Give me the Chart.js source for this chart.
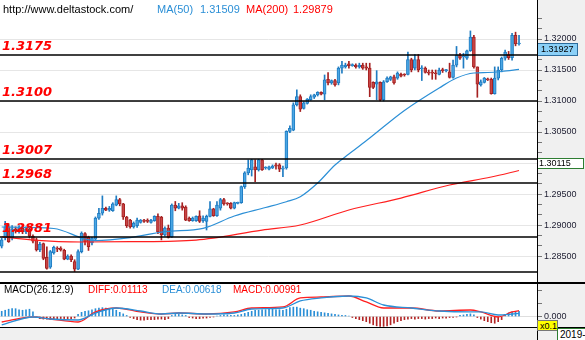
<!DOCTYPE html>
<html>
<head>
<meta charset="utf-8">
<script src="https://cdn.jsdelivr.net/npm/chart.js@4.4.1/dist/chart.umd.min.js"></script>
<style>
  html, body { margin: 0; padding: 0; background: #fff; }
  #wrap { position: relative; width: 585px; height: 340px; overflow: hidden; background: #fff;
          font-family: "Liberation Sans", Arial, sans-serif; }
  .bg { position: absolute; background: #f0f0f0; }
  .rule { position: absolute; background: #000; z-index: 3; }
  canvas { position: absolute; left: 0; z-index: 2; }
  .txt { position: absolute; white-space: nowrap; z-index: 4; line-height: 12px; }
  .tag { position: absolute; z-index: 4; font-size: 9px; line-height: 11px; padding: 0 2px; box-sizing: border-box; }
</style>
</head>
<body>
<div id="wrap">
  <div class="bg" style="left:537px;top:0;width:48px;height:340px"></div>
  <div class="bg" style="left:0;top:327px;width:537px;height:13px"></div>
  <canvas id="priceCanvas" width="585" height="283" style="top:0"></canvas>
  <canvas id="macdCanvas" width="585" height="44" style="top:283px"></canvas>
  <div class="rule" style="left:537px;top:0;width:1px;height:340px"></div>
  <div class="rule" style="left:0;top:282px;width:585px;height:2px"></div>
  <div class="rule" style="left:0;top:327px;width:585px;height:1px"></div>
  <div class="tag" style="left:537px;top:320px;width:21px;height:11px;background:#ffff00;border:1px solid #777">x0.1</div>
  <div class="tag" style="left:557px;top:328px;width:30px;height:13px;background:#fff;border:1px solid #2e7d32;font-size:10px">2019-1</div>
</div>
<script>
// ---- EUR/USD candles (oldest -> newest) ----
const open = [
  1.2866, 1.2879, 1.2897, 1.2879, 1.2894, 1.2890, 1.2895, 1.2889, 1.2894, 1.2882,
  1.2876, 1.2860, 1.2870, 1.2848, 1.2832, 1.2855, 1.2863, 1.2863, 1.2859, 1.2845,
  1.2850, 1.2841, 1.2829, 1.2857, 1.2886, 1.2880, 1.2871, 1.2877, 1.2911, 1.2919,
  1.2927, 1.2924, 1.2923, 1.2932, 1.2941, 1.2934, 1.2913, 1.2908, 1.2897, 1.2899,
  1.2904, 1.2908, 1.2908, 1.2904, 1.2907, 1.2914, 1.2913, 1.2884, 1.2895, 1.2881,
  1.2932, 1.2927, 1.2931, 1.2929, 1.2911, 1.2907, 1.2907, 1.2915, 1.2907, 1.2906,
  1.2914, 1.2926, 1.2915, 1.2927, 1.2941, 1.2935, 1.2935, 1.2927, 1.2935, 1.2936,
  1.2962, 1.2984, 1.2989, 1.2994, 1.2989, 1.3005, 1.2992, 1.2990, 1.2992, 1.2997,
  1.2997, 1.2990, 1.2992, 1.3051, 1.3053, 1.3094, 1.3107, 1.3088, 1.3096, 1.3102,
  1.3106, 1.3110, 1.3114, 1.3111, 1.3135, 1.3129, 1.3133, 1.3129, 1.3153, 1.3155,
  1.3160, 1.3157, 1.3158, 1.3155, 1.3158, 1.3155, 1.3153, 1.3130, 1.3127, 1.3130,
  1.3102, 1.3131, 1.3135, 1.3139, 1.3137, 1.3143, 1.3143, 1.3143, 1.3167, 1.3153,
  1.3167, 1.3152, 1.3153, 1.3146, 1.3146, 1.3145, 1.3143, 1.3150, 1.3149, 1.3147,
  1.3138, 1.3158, 1.3174, 1.3171, 1.3169, 1.3181, 1.3203, 1.3155, 1.3126, 1.3130,
  1.3135, 1.3135, 1.3112, 1.3137, 1.3150, 1.3169, 1.3175, 1.3170, 1.3206, 1.3192
];
const high = [
  1.2879, 1.2906, 1.2902, 1.2899, 1.2897, 1.2899, 1.2899, 1.2897, 1.2895, 1.2884,
  1.2879, 1.2872, 1.2871, 1.2865, 1.2859, 1.2866, 1.2865, 1.2865, 1.2861, 1.2852,
  1.2852, 1.2844, 1.2860, 1.2889, 1.2888, 1.2882, 1.2880, 1.2913, 1.2927, 1.2947,
  1.2929, 1.2930, 1.2936, 1.2947, 1.2943, 1.2935, 1.2914, 1.2909, 1.2905, 1.2911,
  1.2909, 1.2909, 1.2910, 1.2909, 1.2915, 1.2918, 1.2914, 1.2897, 1.2900, 1.2934,
  1.2938, 1.2935, 1.2936, 1.2931, 1.2913, 1.2913, 1.2915, 1.2923, 1.2915, 1.2916,
  1.2938, 1.2927, 1.2938, 1.2943, 1.2943, 1.2936, 1.2936, 1.2937, 1.2937, 1.2963,
  1.2986, 1.3005, 1.3006, 1.3005, 1.3006, 1.3006, 1.2994, 1.2995, 1.2997, 1.3000,
  1.2999, 1.2995, 1.3052, 1.3060, 1.3097, 1.3118, 1.3110, 1.3099, 1.3104, 1.3110,
  1.3111, 1.3115, 1.3115, 1.3142, 1.3146, 1.3134, 1.3135, 1.3155, 1.3164, 1.3161,
  1.3164, 1.3160, 1.3160, 1.3161, 1.3161, 1.3161, 1.3161, 1.3131, 1.3149, 1.3131,
  1.3133, 1.3139, 1.3140, 1.3142, 1.3147, 1.3145, 1.3144, 1.3179, 1.3169, 1.3175,
  1.3175, 1.3157, 1.3155, 1.3150, 1.3150, 1.3150, 1.3153, 1.3153, 1.3151, 1.3161,
  1.3166, 1.3188, 1.3177, 1.3177, 1.3182, 1.3213, 1.3206, 1.3155, 1.3134, 1.3138,
  1.3137, 1.3137, 1.3155, 1.3155, 1.3171, 1.3182, 1.3180, 1.3209, 1.3211, 1.3206
];
const low = [
  1.2863, 1.2876, 1.2872, 1.2876, 1.2887, 1.2887, 1.2886, 1.2886, 1.2879, 1.2871,
  1.2858, 1.2857, 1.2844, 1.2829, 1.2830, 1.2853, 1.2857, 1.2858, 1.2844, 1.2844,
  1.2841, 1.2825, 1.2828, 1.2855, 1.2868, 1.2859, 1.2868, 1.2876, 1.2909, 1.2916,
  1.2923, 1.2922, 1.2922, 1.2931, 1.2931, 1.2909, 1.2896, 1.2895, 1.2895, 1.2896,
  1.2903, 1.2904, 1.2904, 1.2903, 1.2906, 1.2886, 1.2876, 1.2882, 1.2879, 1.2880,
  1.2923, 1.2926, 1.2924, 1.2907, 1.2906, 1.2906, 1.2906, 1.2904, 1.2904, 1.2892,
  1.2913, 1.2914, 1.2914, 1.2924, 1.2932, 1.2932, 1.2926, 1.2926, 1.2934, 1.2935,
  1.2959, 1.2981, 1.2979, 1.2970, 1.2987, 1.2988, 1.2990, 1.2989, 1.2991, 1.2990,
  1.2986, 1.2978, 1.2990, 1.3049, 1.3052, 1.3092, 1.3083, 1.3087, 1.3095, 1.3101,
  1.3104, 1.3108, 1.3110, 1.3102, 1.3126, 1.3127, 1.3124, 1.3126, 1.3145, 1.3153,
  1.3153, 1.3156, 1.3153, 1.3153, 1.3151, 1.3150, 1.3107, 1.3120, 1.3102, 1.3100,
  1.3100, 1.3130, 1.3133, 1.3127, 1.3135, 1.3139, 1.3140, 1.3142, 1.3147, 1.3150,
  1.3147, 1.3133, 1.3145, 1.3142, 1.3135, 1.3135, 1.3142, 1.3146, 1.3147, 1.3137,
  1.3137, 1.3155, 1.3167, 1.3153, 1.3167, 1.3180, 1.3153, 1.3106, 1.3124, 1.3129,
  1.3133, 1.3111, 1.3111, 1.3134, 1.3147, 1.3166, 1.3167, 1.3166, 1.3189, 1.3190
];
const close = [
  1.2876, 1.2897, 1.2873, 1.2894, 1.2890, 1.2895, 1.2889, 1.2894, 1.2882, 1.2874,
  1.2860, 1.2869, 1.2846, 1.2830, 1.2857, 1.2864, 1.2861, 1.2860, 1.2845, 1.2850,
  1.2844, 1.2829, 1.2857, 1.2887, 1.2873, 1.2865, 1.2879, 1.2911, 1.2919, 1.2927,
  1.2924, 1.2927, 1.2934, 1.2941, 1.2934, 1.2913, 1.2899, 1.2897, 1.2903, 1.2908,
  1.2908, 1.2906, 1.2906, 1.2908, 1.2914, 1.2889, 1.2884, 1.2895, 1.2880, 1.2932,
  1.2927, 1.2931, 1.2927, 1.2908, 1.2907, 1.2911, 1.2914, 1.2906, 1.2911, 1.2914,
  1.2926, 1.2915, 1.2932, 1.2941, 1.2934, 1.2934, 1.2927, 1.2936, 1.2936, 1.2962,
  1.2984, 1.2992, 1.3005, 1.2989, 1.3005, 1.2989, 1.2993, 1.2994, 1.2995, 1.2995,
  1.2990, 1.2992, 1.3051, 1.3056, 1.3094, 1.3107, 1.3087, 1.3097, 1.3103, 1.3107,
  1.3110, 1.3114, 1.3111, 1.3134, 1.3129, 1.3133, 1.3126, 1.3153, 1.3158, 1.3158,
  1.3157, 1.3158, 1.3155, 1.3158, 1.3153, 1.3153, 1.3122, 1.3122, 1.3131, 1.3102,
  1.3131, 1.3137, 1.3139, 1.3129, 1.3145, 1.3140, 1.3142, 1.3167, 1.3150, 1.3167,
  1.3150, 1.3153, 1.3146, 1.3145, 1.3145, 1.3144, 1.3150, 1.3149, 1.3150, 1.3138,
  1.3158, 1.3174, 1.3169, 1.3173, 1.3181, 1.3203, 1.3155, 1.3127, 1.3131, 1.3137,
  1.3134, 1.3112, 1.3137, 1.3150, 1.3169, 1.3179, 1.3170, 1.3206, 1.3192, 1.31927
];

// moving averages, sampled at candle index
const ma50Idx = [0, 15, 24, 27, 37, 47, 58, 67, 76, 82, 86, 91, 96, 100, 106, 116, 126, 131, 136, 140, 144, 149];
const ma50 = [1.28968, 1.28944, 1.28774, 1.28750, 1.28798, 1.28895, 1.28947, 1.29145, 1.29282, 1.29376, 1.29456,
              1.29677, 1.29968, 1.30145, 1.30403, 1.30847, 1.31210, 1.31371, 1.31452, 1.31460, 1.31476, 1.31509];
const ma200Idx = [0, 9, 23, 37, 56, 75, 86, 100, 115, 129, 141, 149];
const ma200 = [1.28811, 1.28758, 1.28726, 1.28731, 1.28758, 1.28919, 1.29000, 1.29242, 1.29435, 1.29645, 1.29774, 1.29879];

// support / resistance levels (last one unlabelled)
const levels = [1.3175, 1.3100, 1.3007, 1.2968, 1.2881, 1.2824];
const levelLabelled = [true, true, true, true, true, false];
const priceTicks = [1.285, 1.290, 1.295, 1.300, 1.305, 1.310, 1.315, 1.320];
const markedPrice = 1.30115;

// MACD(26,12,9)
const macdIdx = [0, 9, 14, 22, 27, 33, 40, 46, 51, 59, 67, 72, 81, 86, 92, 100, 105, 110, 118, 126, 135, 138, 143, 147, 149];
const diffVal = [-0.0106, -0.0010, -0.0048, -0.0106, 0.0087, 0.0163, 0.0087, 0.0048, 0.0067, 0.0048, 0.0087, 0.0163, 0.0183,
                 0.0356, 0.0375, 0.0394, 0.0279, 0.0163, 0.0163, 0.0106, 0.0125, 0.0087, -0.0010, 0.0087, 0.01113];
const deaVal = [-0.0163, -0.0010, -0.0048, -0.0067, 0.0067, 0.0163, 0.0106, 0.0048, 0.0067, 0.0048, 0.0067, 0.0144, 0.0163,
                0.0298, 0.0356, 0.0394, 0.0356, 0.0221, 0.0163, 0.0106, 0.0087, 0.0087, 0.0029, 0.0048, 0.00618];
const macdHist = [
  0.010, 0.012, 0.014, 0.015, 0.015, 0.013, 0.012, 0.013, 0.014, 0.009,
  -0.002, -0.004, -0.005, -0.005, -0.006, -0.005, -0.005, -0.004, -0.004, -0.005, -0.004, -0.003,
  0.004, 0.008, 0.010, 0.011, 0.013, 0.015, 0.016, 0.017, 0.016, 0.015, 0.014, 0.012,
  0.008, 0.005, 0.002, -0.002,
  -0.004, -0.006, -0.007, -0.007, -0.006, -0.006, -0.006, -0.005, -0.005, -0.006, -0.004,
  0.002, 0.004, 0.004, 0.003, 0.002,
  -0.002, -0.003, -0.004, -0.004, -0.003, -0.003, -0.002, -0.001,
  0.001, 0.002, 0.003, 0.003, 0.002, 0.002, 0.003, 0.004,
  0.006, 0.008, 0.010, 0.012, 0.012, 0.013, 0.013, 0.014, 0.014, 0.013, 0.013, 0.012, 0.014, 0.017, 0.018,
  0.018, 0.016, 0.015, 0.013, 0.012, 0.010,
  0.009, 0.008, 0.007, 0.006, 0.005, 0.004, 0.003, 0.002, 0.002, 0.001,
  -0.002, -0.004, -0.006, -0.008, -0.010, -0.013, -0.016, -0.018, -0.019, -0.019, -0.018, -0.016, -0.013, -0.010, -0.008,
  -0.006, -0.005, -0.004, -0.005, -0.004, -0.004, -0.005, -0.004, -0.004, -0.003, -0.004, -0.003, -0.003, -0.002, -0.002, -0.001,
  0.002, 0.003, 0.004, 0.005, 0.003,
  -0.002, -0.005, -0.008, -0.010, -0.012, -0.013, -0.010, -0.006,
  0.004, 0.007, 0.009, 0.010, 0.00991
];

// ---- layout constants ----
const X_MIN = -0.49, X_MAX = 154.18;      // candle slots over the 537px plot
const P_MIN = 1.28065, P_MAX = 1.32629;
const M_MIN = -0.0202, M_MAX = 0.0644;
const BLUE = '#2b8fd6', RED = '#ff1f1f';
const AXIS_FONT = { family: '"Liberation Sans", Arial, sans-serif', size: 9 };

const up = close.map((c, i) => c >= open[i]);
const fill = up.map(u => u ? '#4aa6e4' : '#c84545');
const edge = up.map(u => u ? '#1f7cc2' : '#a52121');

const isMajor = v => priceTicks.some(t => Math.abs(t - v) < 1e-7);
const priceTickValues = [];
priceTicks.forEach(t => { for (let k = 0; k < 3; k++) priceTickValues.push(t + k * 0.005 / 3); });

function fixedWidth(scale) { scale.width = 48; scale.paddingTop = 0; scale.paddingBottom = 0; }

const levelLines = {
  id: 'levelLines',
  afterDatasetsDraw(chart) {
    const { ctx, chartArea: a, scales: { y } } = chart;
    ctx.save();
    levels.forEach((lv, k) => {
      const py = Math.round(y.getPixelForValue(lv));
      ctx.strokeStyle = '#000';
      ctx.lineWidth = 1.5;
      ctx.beginPath(); ctx.moveTo(a.left, py); ctx.lineTo(a.right, py); ctx.stroke();
      if (levelLabelled[k]) {
        ctx.font = 'italic bold 13px "DejaVu Sans"';
        ctx.fillStyle = '#ff0000';
        ctx.textBaseline = 'bottom';
        ctx.fillText(lv.toFixed(4), 2, py - 2);
      }
    });
    ctx.restore();
  },
  afterDraw(chart) {
    const { ctx, chartArea: a, scales: { y } } = chart;
    ctx.save();
    ctx.font = '9px "Liberation Sans"';
    ctx.textBaseline = 'middle';
    // last price tag
    const last = close[close.length - 1];
    let top = Math.round(y.getPixelForValue(last)) - 1;
    ctx.fillStyle = '#8bd0f7'; ctx.fillRect(a.right + 0.5, top + 0.5, 40, 12);
    ctx.strokeStyle = '#2c6c9c'; ctx.lineWidth = 1; ctx.strokeRect(a.right + 0.5, top + 0.5, 40, 12);
    ctx.fillStyle = '#000'; ctx.fillText(last.toFixed(5), a.right + 4, top + 7);
    // marked price tag
    top = Math.round(y.getPixelForValue(markedPrice)) + 2;
    ctx.fillStyle = '#fff'; ctx.fillRect(a.right + 0.5, top + 0.5, 46, 10);
    ctx.strokeStyle = '#2e7d32'; ctx.strokeRect(a.right + 0.5, top + 0.5, 46, 10);
    ctx.fillStyle = '#000'; ctx.fillText(markedPrice.toFixed(5), a.right + 2, top + 6);
    ctx.restore();
  }
};

new Chart(document.getElementById('priceCanvas'), {
  type: 'bar',
  data: {
    datasets: [
      { type: 'line', data: ma50Idx.map((x, k) => ({ x, y: ma50[k] })), borderColor: BLUE, borderWidth: 1.2,
        pointRadius: 0, cubicInterpolationMode: 'monotone', order: -2 },
      { type: 'line', data: ma200Idx.map((x, k) => ({ x, y: ma200[k] })), borderColor: RED, borderWidth: 1.2,
        pointRadius: 0, cubicInterpolationMode: 'monotone', order: -1 },
      { data: open.map((o, i) => ({ x: i, y: [o, close[i]] })), backgroundColor: fill, borderColor: edge,
        borderWidth: 1, borderSkipped: false, barThickness: 3, minBarLength: 1, grouped: false, order: 0 },
      { data: low.map((l, i) => ({ x: i, y: [l, high[i]] })), backgroundColor: edge,
        barThickness: 1, grouped: false, order: 1 }
    ]
  },
  options: {
    responsive: false, animation: false, devicePixelRatio: 1,
    layout: { padding: 0 },
    plugins: { legend: { display: false }, tooltip: { enabled: false } },
    scales: {
      x: { type: 'linear', min: X_MIN, max: X_MAX, offset: false, display: false },
      y: {
        position: 'right', min: P_MIN, max: P_MAX,
        afterFit: fixedWidth,
        afterBuildTicks: s => { s.ticks = priceTickValues.map(v => ({ value: v })); },
        border: { display: false },
        grid: { color: c => isMajor(c.tick.value) ? '#e6e6e6' : 'rgba(0,0,0,0)', tickColor: '#777', tickLength: 5 },
        ticks: { font: AXIS_FONT, color: '#1c1c30', padding: 2, autoSkip: false,
                 callback: v => isMajor(v) ? v.toFixed(5) : '' }
      }
    }
  },
  plugins: [levelLines]
});

new Chart(document.getElementById('macdCanvas'), {
  type: 'bar',
  data: {
    datasets: [
      { type: 'line', data: macdIdx.map((x, k) => ({ x, y: diffVal[k] })), borderColor: RED, borderWidth: 1.3,
        pointRadius: 0, cubicInterpolationMode: 'monotone', order: -1 },
      { type: 'line', data: macdIdx.map((x, k) => ({ x, y: deaVal[k] })), borderColor: BLUE, borderWidth: 1.3,
        pointRadius: 0, cubicInterpolationMode: 'monotone', order: -2 },
      { data: macdHist.map((v, i) => ({ x: i, y: v })), backgroundColor: macdHist.map(v => v >= 0 ? BLUE : '#b22424'),
        barThickness: 1, grouped: false, order: 0 }
    ]
  },
  options: {
    responsive: false, animation: false, devicePixelRatio: 1,
    layout: { padding: 0 },
    plugins: { legend: { display: false }, tooltip: { enabled: false } },
    scales: {
      x: { type: 'linear', min: X_MIN, max: X_MAX, offset: false, display: false },
      y: {
        position: 'right', min: M_MIN, max: M_MAX,
        afterFit: fixedWidth,
        afterBuildTicks: s => { s.ticks = [0, 0.025, 0.05].map(v => ({ value: v })); },
        border: { display: false },
        grid: { color: c => c.tick.value === 0 ? '#dedede' : 'rgba(0,0,0,0)', tickColor: '#777', tickLength: 5 },
        ticks: { font: AXIS_FONT, color: '#1c1c30', padding: 2, autoSkip: false,
                 callback: v => v === 0 ? '0.000' : '' }
      }
    }
  }
});

// ---- header texts ----
const wrap = document.getElementById('wrap');
function addText(text, left, top, color, size) {
  const d = document.createElement('div');
  d.className = 'txt';
  d.textContent = text;
  d.style.cssText = `left:${left}px;top:${top}px;color:${color};font-size:${size}px`;
  wrap.appendChild(d);
}
addText('http://www.deltastock.com/', 3, 3, '#000', 11);
addText('MA(50)', 157, 3, BLUE, 11);
addText(ma50[ma50.length - 1].toFixed(5), 200, 3, BLUE, 11);
addText('MA(200)', 246, 3, '#ff0000', 11);
addText(ma200[ma200.length - 1].toFixed(5), 293, 3, '#ff0000', 11);

addText('MACD(26.12.9)', 4, 284, '#000', 10);
addText('DIFF:' + diffVal[diffVal.length - 1].toFixed(5), 88, 284, '#ff0000', 10);
addText('DEA:' + deaVal[deaVal.length - 1].toFixed(5), 162, 284, BLUE, 10);
addText('MACD:' + macdHist[macdHist.length - 1].toFixed(5), 233, 284, '#ff0000', 10);
</script>
</body>
</html>
